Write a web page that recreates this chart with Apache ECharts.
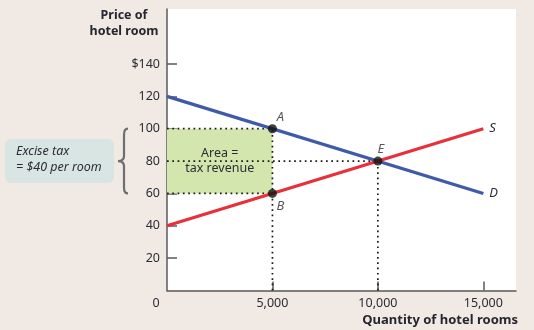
<!DOCTYPE html>
<html>
<head>
<meta charset="utf-8">
<script src="https://cdn.jsdelivr.net/npm/echarts@6/dist/echarts.min.js"></script>
<style>
html,body{margin:0;padding:0;background:#f0e9e4;}
#c{width:534px;height:330px;}
</style>
</head>
<body>
<div id="c"></div>
<script>
// ---- data ----
const demandQ = [0, 15000];
const demandP = [120, 60];
const supplyQ = [0, 15000];
const supplyP = [40, 100];
const pointNames = ['A', 'B', 'E'];
const pointQ = [5000, 5000, 10000];
const pointP = [100, 60, 80];
const taxQ = 5000;          // quantity with tax
const demandPriceTax = 100; // price paid by consumers
const supplyPriceTax = 60;  // price received by producers
const eqQ = 10000;
const eqP = 80;
const yTicks = [20, 40, 60, 80, 100, 120, 140];
const xTicks = [5000, 10000, 15000];
const xLabels = [0, 5000, 10000, 15000];
const yMax = 174;
const xMax = 16550;

const FONT = '"Noto Sans", sans-serif';
const TXT = '#2c2c36';

const chart = echarts.init(document.getElementById('c'), null, {renderer: 'canvas'});

function dotted(data) {
  return {
    type: 'line', data: data, symbol: 'none', silent: true, z: 3,
    lineStyle: {color: '#1a1a1a', width: 1.7, type: [1.7, 3.6]}
  };
}

const option = {
  backgroundColor: '#f0e9e4',
  animation: false,
  grid: {left: 167, top: 9, right: 18, bottom: 39.5, show: true, backgroundColor: '#ffffff', borderWidth: 0},
  xAxis: {
    type: 'value', min: 0, max: xMax,
    splitLine: {show: false},
    axisLine: {lineStyle: {color: '#5a5a5a', width: 1.5}},
    axisTick: {show: true, inside: true, length: 9, customValues: xTicks, lineStyle: {color: '#5a5a5a', width: 1.5}},
    axisLabel: {
      customValues: xLabels, margin: 6, color: TXT, fontFamily: FONT, fontSize: 12.5,
      formatter: v => v === 0 ? '{z|0}' : v.toLocaleString('en-US'),
      rich: {z: {padding: [0, 22, 0, 0], color: TXT, fontFamily: FONT, fontSize: 12.5}}
    }
  },
  yAxis: {
    type: 'value', min: 0, max: yMax,
    splitLine: {show: false},
    axisLine: {show: true, lineStyle: {color: '#5a5a5a', width: 1.5}},
    axisTick: {show: true, inside: true, length: 10, customValues: yTicks, lineStyle: {color: '#5a5a5a', width: 1.5}},
    axisLabel: {
      customValues: yTicks, margin: 7, color: TXT, fontFamily: FONT, fontSize: 12.5,
      formatter: v => v === 140 ? '$140' : String(v)
    }
  },
  graphic: [
    {type: 'text', x: 124, y: 7, style: {text: 'Price of\nhotel room', align: 'center', verticalAlign: 'top', fontFamily: FONT, fontSize: 12.5, fontWeight: 'bold', lineHeight: 16.5, fill: '#26262f'}},
    {type: 'text', x: 518, y: 314, style: {text: 'Quantity of hotel rooms', align: 'right', verticalAlign: 'top', fontFamily: FONT, fontSize: 13, fontWeight: 'bold', fill: '#26262f'}},
    {type: 'rect', left: 5, top: 139, shape: {width: 109, height: 44, r: 6}, style: {fill: '#d9e5e3'}},
    {type: 'text', left: 16, top: 144, style: {text: 'Excise tax\n= $40 per room', fontFamily: FONT, fontSize: 12.5, fontStyle: 'italic', lineHeight: 15.5, fill: TXT}}
  ],
  series: [
    {
      type: 'line', data: [], silent: true,
      markArea: {
        silent: true,
        itemStyle: {color: '#d3e6ad'},
        label: {show: true, position: 'inside', formatter: 'Area =\ntax revenue', color: TXT, fontFamily: FONT, fontSize: 12.5, lineHeight: 15},
        data: [[{coord: [0, supplyPriceTax]}, {coord: [taxQ, demandPriceTax]}]]
      }
    },
    dotted([[0, demandPriceTax], [taxQ, demandPriceTax]]),
    dotted([[0, supplyPriceTax], [taxQ, supplyPriceTax]]),
    dotted([[0, eqP], [eqQ, eqP]]),
    dotted([[taxQ, 0], [taxQ, demandPriceTax]]),
    dotted([[eqQ, 0], [eqQ, eqP]]),
    {
      type: 'line', symbol: 'none', z: 4,
      lineStyle: {color: '#3f5aa8', width: 3.2},
      data: demandQ.map((q, i) => [q, demandP[i]]),
      endLabel: {show: true, formatter: 'D', distance: 6, color: TXT, fontFamily: FONT, fontSize: 13, fontStyle: 'italic'}
    },
    {
      type: 'line', symbol: 'none', z: 4,
      lineStyle: {color: '#e8303a', width: 3.2},
      data: supplyQ.map((q, i) => [q, supplyP[i]]),
      endLabel: {show: true, formatter: 'S', distance: 6, color: TXT, fontFamily: FONT, fontSize: 13, fontStyle: 'italic'}
    },
    {
      type: 'scatter', z: 5, symbolSize: 9,
      itemStyle: {color: '#111111'},
      data: pointNames.map((n, i) => ({
        name: n, value: [pointQ[i], pointP[i]],
        label: {
          show: true, formatter: n, color: TXT, fontFamily: FONT, fontSize: 13, fontStyle: 'italic',
          position: n === 'B' ? 'bottom' : 'top',
          offset: n === 'A' ? [8, 5] : (n === 'B' ? [8, -3] : [3, 4])
        }
      }))
    },
    {
      type: 'custom', z: 5, clip: false, silent: true,
      data: [[supplyPriceTax, demandPriceTax]],
      renderItem: function (params, api) {
        const top = api.coord([0, api.value(1)]);
        const bot = api.coord([0, api.value(0)]);
        const xr = top[0] - 39, xs = top[0] - 43, xm = top[0] - 49;
        const t = top[1], b = bot[1], m = (t + b) / 2;
        const d = 'M' + xr + ' ' + t + ' Q' + xs + ' ' + t + ' ' + xs + ' ' + (t + 6) +
          ' L' + xs + ' ' + (m - 5) + ' Q' + xs + ' ' + m + ' ' + xm + ' ' + m +
          ' Q' + xs + ' ' + m + ' ' + xs + ' ' + (m + 5) +
          ' L' + xs + ' ' + (b - 6) + ' Q' + xs + ' ' + b + ' ' + xr + ' ' + b;
        return {type: 'path', shape: {pathData: d}, style: {stroke: '#6e6e6e', lineWidth: 2.2, fill: 'none'}};
      }
    }
  ]
};
chart.setOption(option);
</script>
</body>
</html>
